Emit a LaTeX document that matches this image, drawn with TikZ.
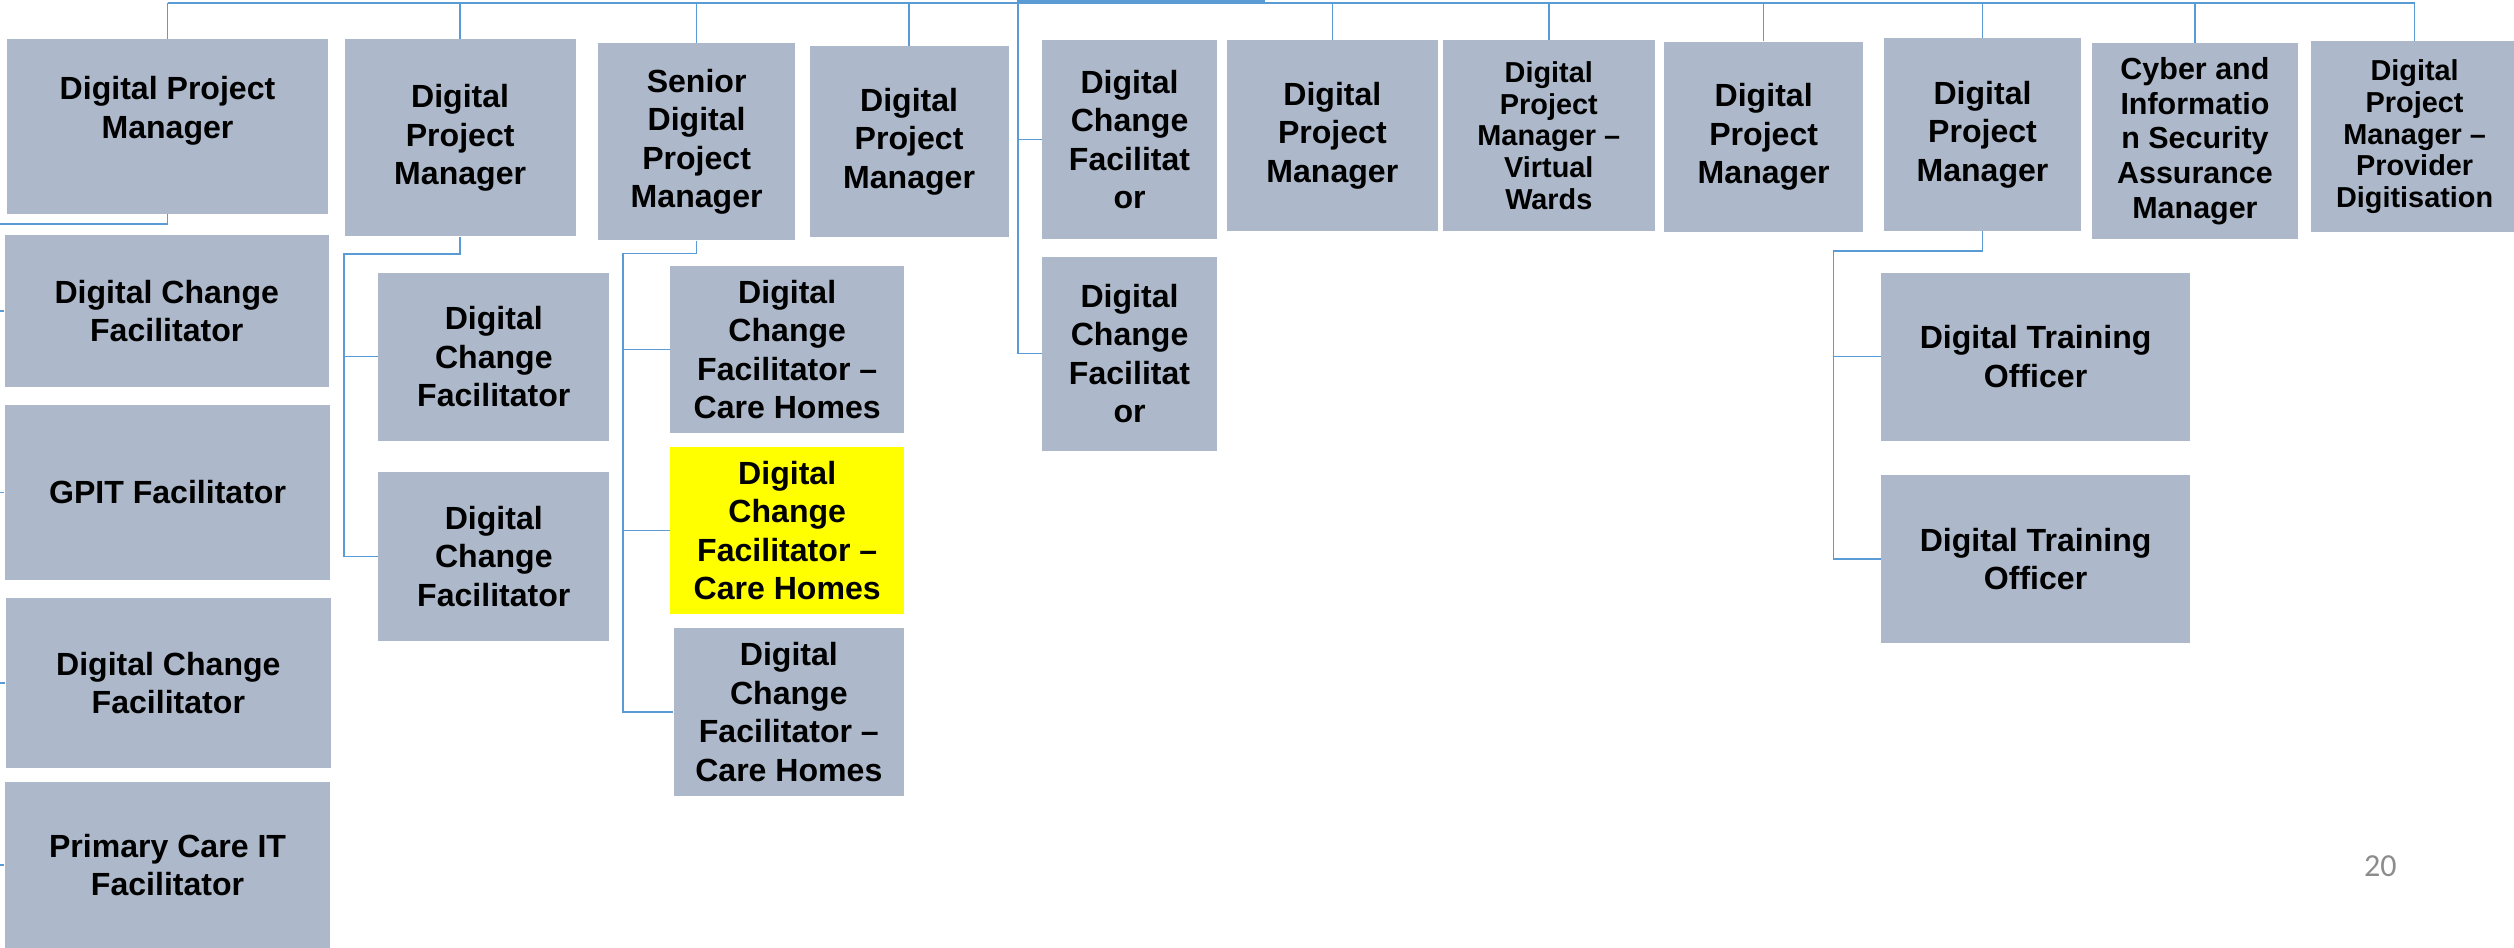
\documentclass[tikz,border=0pt]{standalone}
\usepackage{fontspec}
\setmainfont{Liberation Sans}
\newfontfamily\slidefont{Carlito}
\definecolor{postgray}{HTML}{ADB9CA}
\definecolor{linkblue}{HTML}{5B9BD5}
\definecolor{hilite}{HTML}{FFFF00}
\definecolor{pagegray}{HTML}{8C8C8C}
\tikzset{
  post/.style={rectangle, fill=postgray, inner sep=1pt, align=center,
    font=\bfseries\fontsize{20}{24}\selectfont},
  smallpost/.style={post, font=\bfseries\fontsize{18}{19.8}\selectfont},
  link/.style={draw=linkblue, line width=0.9pt},
}
\begin{document}
\begin{tikzpicture}[x=1pt,y=-1pt]
          \useasboundingbox (0,0) rectangle (1568,591);
          % top row of posts
          \node[post, minimum width=200, minimum height=109] (dpmA) at (104.5,79) {Digital Project\\Manager\\~};
          \node[post, minimum width=144, minimum height=123] (dpmB) at (287,86) {Digital\\Project\\Manager};
          \node[post, minimum width=123, minimum height=123] (sdpm) at (434.5,88.5) {Senior\\Digital\\Project\\Manager};
          \node[post, minimum width=124, minimum height=119] (dpmC) at (567,88.4) {Digital\\Project\\Manager};
          \node[post, minimum width=109, minimum height=124] (dcfA) at (704.5,87) {Digital\\Change\\Facilitat\\or};
          \node[post, minimum width=132, minimum height=119] (dpmD) at (831,84.5) {Digital\\Project\\Manager};
          \node[smallpost, minimum width=132, minimum height=119] (dpmVW) at (966,84.5) {Digital\\Project\\Manager --\\Virtual\\Wards};
          \node[post, minimum width=124, minimum height=119] (dpmE) at (1100,85.5) {Digital\\Project\\Manager};
          \node[post, minimum width=123, minimum height=120] (dpmF) at (1236.5,84) {Digital\\Project\\Manager};
          \node[post, font=\bfseries\fontsize{19}{21.6}\selectfont, minimum width=128, minimum height=122] (cisam) at (1369,88) {Cyber and\\Informatio\\n Security\\Assurance\\Manager};
          \node[smallpost, minimum width=129, minimum height=119] (dpmPD) at (1506,85.3) {Digital\\Project\\Manager --\\Provider\\Digitisation};
          % left column
          \node[post, minimum width=202, minimum height=94.5] (dcfC) at (104,194) {Digital Change\\Facilitator};
          \node[post, minimum width=203, minimum height=109] (gpit) at (104.5,307) {GPIT Facilitator};
          \node[post, minimum width=203, minimum height=105.5] (dcfD) at (105,426) {Digital Change\\Facilitator};
          \node[post, minimum width=203, minimum height=103] (pcit) at (104.5,539.5) {Primary Care IT\\Facilitator};
          % second level
          \node[post, minimum width=144, minimum height=105] (dcfE) at (308,222.5) {Digital\\Change\\Facilitator};
          \node[post, minimum width=144, minimum height=105] (dcfF) at (308,347) {Digital\\Change\\Facilitator};
          \node[post, minimum width=146, minimum height=104] (dcfhA) at (491,218) {Digital\\Change\\Facilitator --\\Care Homes};
          \node[post, fill=hilite, minimum width=146, minimum height=104] (dcfhB) at (491,331) {Digital\\Change\\Facilitator --\\Care Homes};
          \node[post, minimum width=143.5, minimum height=104.5] (dcfhC) at (492,444) {Digital\\Change\\Facilitator --\\Care Homes};
          \node[post, minimum width=109, minimum height=121] (dcfB) at (704.5,220.5) {Digital\\Change\\Facilitat\\or};
          \node[post, minimum width=192.4, minimum height=104.5] (dtoA) at (1269.6,222.5) {Digital Training\\Officer};
          \node[post, minimum width=192.4, minimum height=105] (dtoB) at (1269.6,348.6) {Digital Training\\Officer};
          % page number
          \node[font=\slidefont\fontsize{20}{24}\selectfont, text=pagegray] (pageno) at (1484.7,540) {20};
          % bus points
          \coordinate (top) at (0,2);
          \coordinate (rootL) at (634,1.5);
          \coordinate (rootR) at (789,1.5);
          \coordinate (lbus) at (-2,139.7);
          \coordinate (bbus) at (214.6,158.3);
          \coordinate (sbus) at (388.6,158);
          \coordinate (cbus) at (634.9,2);
          \coordinate (fbus) at (1143.4,156.6);
          % top line
          \draw[link] (dpmA.north |- top) -- (dpmPD.north |- top);
          \draw[link, line width=2.5pt] (rootL) -- (rootR);
          \draw[link] (dpmA.north) -- (dpmA.north |- top);
          \draw[link] (dpmB.north) -- (dpmB.north |- top);
          \draw[link] (sdpm.north) -- (sdpm.north |- top);
          \draw[link] (dpmC.north) -- (dpmC.north |- top);
          \draw[link] (dpmD.north) -- (dpmD.north |- top);
          \draw[link] (dpmVW.north) -- (dpmVW.north |- top);
          \draw[link] (dpmE.north) -- (dpmE.north |- top);
          \draw[link] (dpmF.north) -- (dpmF.north |- top);
          \draw[link] (cisam.north) -- (cisam.north |- top);
          \draw[link] (dpmPD.north) -- (dpmPD.north |- top);
          % left column
          \draw[link] (dpmA.south) |- (lbus) -- (lbus |- pcit.west) -- (pcit.west);
          \draw[link] (lbus |- dcfC.west) -- (dcfC.west);
          \draw[link] (lbus |- gpit.west) -- (gpit.west);
          \draw[link] (lbus |- dcfD.west) -- (dcfD.west);
          % digital project manager children
          \draw[link] (dpmB.south) |- (bbus) |- (dcfF.west);
          \draw[link] (bbus |- dcfE.west) -- (dcfE.west);
          % senior children
          \draw[link] (sdpm.south) |- (sbus) |- (dcfhC.west);
          \draw[link] (sbus |- dcfhA.west) -- (dcfhA.west);
          \draw[link] (sbus |- dcfhB.west) -- (dcfhB.west);
          % change facilitators
          \draw[link] (cbus) |- (dcfB.west);
          \draw[link] (cbus |- dcfA.west) -- (dcfA.west);
          % training officers
          \draw[link] (dpmF.south) |- (fbus) |- (dtoB.west);
          \draw[link] (fbus |- dtoA.west) -- (dtoA.west);
        \end{tikzpicture}
\end{document}
